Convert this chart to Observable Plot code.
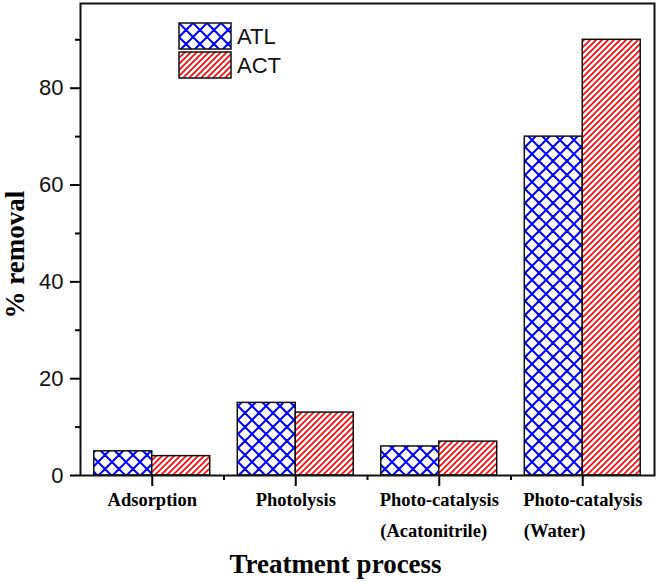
<!DOCTYPE html>
<html>
<head>
<meta charset="utf-8">
<script src="https://cdn.jsdelivr.net/npm/d3@7"></script>
<script src="https://cdn.jsdelivr.net/npm/@observablehq/plot@0.6"></script>
<style>
  html, body { margin: 0; padding: 0; background: #fff; }
  #chart { width: 658px; height: 582px; }
</style>
</head>
<body>
<div id="chart"></div>
<script>
// ---- data ----
const categories = ["Adsorption", "Photolysis", "Photo-catalysis", "Photo-catalysis"];
const subLabels = ["", "", "(Acatonitrile)", "(Water)"];
const series = ["ATL", "ACT"];
const atlValues = [5, 15, 6, 70];
const actValues = [4, 13, 7, 90];
const yTicks = [0, 20, 40, 60, 80];
const yMinorTicks = [10, 30, 50, 70, 90];
const xTicks = [0, 1, 2, 3];
const xMinorTicks = [0.5, 1.5, 2.5];
const yLabel = "% removal";
const xLabel = "Treatment process";

const rows = categories.flatMap((c, i) => [
  {i, s: "ATL", v: atlValues[i]},
  {i, s: "ACT", v: actValues[i]}
]);
const half = 0.404; // bar width in category units

const serif = "'Liberation Serif', 'Times New Roman', serif";
const sans = "'Liberation Sans', Arial, sans-serif";

const plot = Plot.plot({
  width: 658,
  height: 582,
  marginLeft: 80,
  marginRight: 4,
  marginTop: 3,
  marginBottom: 107,
  style: {fontFamily: sans, color: "#000", background: "#fff"},
  x: {type: "linear", domain: [-0.5, 3.5]},
  y: {domain: [0, 97.5]},
  color: {type: "ordinal", domain: series, range: ["url(#hatchATL)", "url(#hatchACT)"]},
  marks: [
    Plot.rect(rows, {
      x1: d => d.s === "ATL" ? d.i - half : d.i,
      x2: d => d.s === "ATL" ? d.i : d.i + half,
      y1: () => 0,
      y2: "v",
      fill: "s",
      stroke: "#111",
      strokeWidth: 1.5
    }),
    Plot.axisY(yTicks, {tickSize: 10, tickPadding: 7, fontSize: 22, strokeWidth: 2, label: null, fill: "#111"}),
    Plot.axisY(yMinorTicks, {tickSize: 5, tickFormat: () => "", strokeWidth: 2, label: null}),
    Plot.axisX(xTicks, {
      tickSize: 11, tickPadding: 6, strokeWidth: 2, label: null,
      tickFormat: i => categories[i],
      fontSize: 18.5, fontWeight: "bold", fontFamily: serif, fill: "#000"
    }),
    Plot.axisX(xMinorTicks, {tickSize: 5, tickFormat: () => "", strokeWidth: 2, label: null}),
    Plot.text(xTicks.filter(i => subLabels[i]), {
      x: i => i, text: i => subLabels[i],
      frameAnchor: "bottom", textAnchor: "start", lineAnchor: "top",
      dx: -59, dy: 48,
      fontSize: 18.5, fontWeight: "bold", fontFamily: serif, fill: "#000"
    }),
    Plot.text([yLabel], {
      text: d => d, frameAnchor: "left", rotate: -90, dx: -65, dy: 79,
      fontSize: 27, fontWeight: "bold", fontFamily: serif, fill: "#000"
    }),
    Plot.text([xLabel], {
      text: d => d, frameAnchor: "bottom", dx: -32, dy: 97,
      fontSize: 27, fontWeight: "bold", fontFamily: serif, fill: "#000"
    }),
    Plot.frame({stroke: "#111", strokeWidth: 2})
  ]
});

const svg = d3.select(plot);
const defs = svg.insert("defs", ":first-child");
// crosshatch for ATL
const p1 = defs.append("pattern").attr("id", "hatchATL")
  .attr("patternUnits", "userSpaceOnUse").attr("width", 14).attr("height", 14);
p1.append("rect").attr("width", 14).attr("height", 14).attr("fill", "#fff");
p1.append("path")
  .attr("d", "M0,0L14,14 M7,-7L21,7 M-7,7L7,21 M0,14L14,0 M-7,7L7,-7 M7,21L21,7")
  .attr("stroke", "#0000ff").attr("stroke-width", 2).attr("fill", "none");
// diagonal hatch for ACT
const p2 = defs.append("pattern").attr("id", "hatchACT")
  .attr("patternUnits", "userSpaceOnUse").attr("width", 6).attr("height", 6);
p2.append("rect").attr("width", 6).attr("height", 6).attr("fill", "#fff");
p2.append("path")
  .attr("d", "M0,6L6,0 M-3,3L3,-3 M3,9L9,3")
  .attr("stroke", "#ff0000").attr("stroke-width", 1.6).attr("fill", "none");

// legend
const legend = svg.append("g").attr("transform", "translate(179,23)");
series.forEach((s, k) => {
  const g = legend.append("g").attr("transform", `translate(0,${k * 29})`);
  g.append("rect").attr("width", 52).attr("height", 26)
    .attr("fill", `url(#hatch${s})`).attr("stroke", "#111").attr("stroke-width", 1.5);
  g.append("text").attr("x", 58).attr("y", 21).text(s)
    .attr("text-anchor", "start")
    .attr("font-size", 22).attr("font-family", sans).attr("fill", "#111");
});

document.getElementById("chart").appendChild(plot);
</script>
</body>
</html>
